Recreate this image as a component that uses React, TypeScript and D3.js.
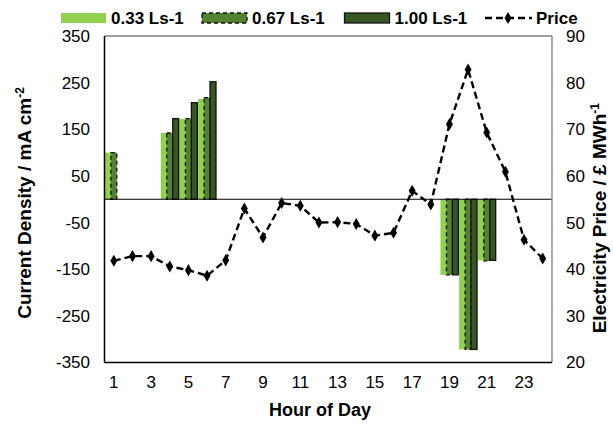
import React from "react";
import * as d3 from "d3";

// hours 1..24
const hours = d3.range(1, 25).map(String);
const seriesNames = ["0.33 Ls-1", "0.67 Ls-1", "1.00 Ls-1"];

// current density (mA cm-2) per hour, 0 = no bar
const flow033 = [100, 0, 0, 142, 172, 215, 0, 0, 0, 0, 0, 0, 0, 0, 0, 0, 0, 0, -162, -322, -131, 0, 0, 0];
const flow067 = [100, 0, 0, 142, 173, 218, 0, 0, 0, 0, 0, 0, 0, 0, 0, 0, 0, 0, -162, -322, -132, 0, 0, 0];
const flow100 = [0, 0, 0, 173, 207, 252, 0, 0, 0, 0, 0, 0, 0, 0, 0, 0, 0, 0, -162, -322, -131, 0, 0, 0];

// electricity price (£ MWh-1)
const price = [41.8, 42.8, 42.8, 40.6, 39.8, 38.6, 41.9, 53.0, 46.8, 54.2, 53.6, 50.0, 50.1, 49.7, 47.2, 47.8, 56.8, 53.9, 71.1, 82.8, 69.3, 60.9, 46.3, 42.3];

const leftTicks = d3.range(-350, 351, 100);
const rightTicks = d3.range(20, 91, 10);
const xTickLabels = hours.filter((h, i) => i % 2 === 0);

const font = "'Liberation Sans', Arial, sans-serif";
const fills = ["#92D050", "#548235", "#375623"];

const App = () => {
  const left = 104.5, right = 552, top = 36, bottom = 362.5;

  const x = d3.scaleBand().domain(hours).range([left, right]).paddingInner(0.04).paddingOuter(0.02);
  const xs = d3.scaleBand().domain(seriesNames).range([0, x.bandwidth()]);
  const y = d3.scaleLinear().domain([-350, 350]).range([bottom, top]);
  const y2 = d3.scaleLinear().domain([20, 90]).range([bottom, top]);

  const all = [flow033, flow067, flow100];

  const line = d3.line<number>()
    .x((d, i) => x(hours[i])! + x.bandwidth() / 2)
    .y(d => y2(d));

  const diamond = d3.symbol().type(d3.symbolDiamond).size(42)();

  const barStyle = (k: number) => {
    if (k === 0) return { fill: fills[0], stroke: "none" };
    if (k === 1) return { fill: fills[1], stroke: "#111", strokeWidth: 1.3, strokeDasharray: "4,3" };
    return { fill: fills[2], stroke: "#111", strokeWidth: 1.3 };
  };

  const legend = [
    { x: 61, label: seriesNames[0], kind: 0 },
    { x: 202, label: seriesNames[1], kind: 1 },
    { x: 344.5, label: seriesNames[2], kind: 2 },
  ];

  return (
    <svg width={613} height={426} style={{ display: "block", position: "absolute", left: 0, top: 0 }}>
      <rect width={613} height={426} fill="white" />

      {/* bars */}
      {all.map((vals, k) =>
        vals.map((v, i) =>
          v === 0 ? null : (
            <rect
              key={`${k}-${i}`}
              x={x(hours[i])! + xs(seriesNames[k])!}
              y={Math.min(y(v), y(0))}
              width={xs.bandwidth()}
              height={Math.abs(y(v) - y(0))}
              {...barStyle(k)}
            />
          )
        )
      )}

      {/* zero line */}
      <line x1={left} x2={right} y1={y(0)} y2={y(0)} stroke="#000" strokeWidth={1.2} />

      {/* frame */}
      <line x1={left} x2={right} y1={top} y2={top} stroke="#7f7f7f" strokeWidth={1.3} />
      <line x1={right} x2={right} y1={top} y2={bottom} stroke="#7f7f7f" strokeWidth={1.3} />
      <line x1={left} x2={right} y1={bottom} y2={bottom} stroke="#000" strokeWidth={1.5} />
      <line x1={left} x2={left} y1={top} y2={bottom} stroke="#000" strokeWidth={1.5} />

      {/* price line */}
      <path d={line(price)!} fill="none" stroke="#000" strokeWidth={2.4} strokeDasharray="7,4" />
      {price.map((p, i) => (
        <path key={i} d={diamond!} transform={`translate(${x(hours[i])! + x.bandwidth() / 2},${y2(p)})`} fill="#000" />
      ))}

      {/* left ticks */}
      {leftTicks.map(t => (
        <text key={t} x={90} y={y(t)} dy="0.35em" textAnchor="end" fontFamily={font} fontSize={17} fill="#000">
          {t}
        </text>
      ))}
      {/* right ticks */}
      {rightTicks.map(t => (
        <text key={t} x={566} y={y2(t)} dy="0.35em" textAnchor="start" fontFamily={font} fontSize={17} fill="#000">
          {t}
        </text>
      ))}
      {/* x ticks */}
      {xTickLabels.map(h => (
        <text key={h} x={x(h)! + x.bandwidth() / 2} y={388} textAnchor="middle" fontFamily={font} fontSize={17} fill="#000">
          {h}
        </text>
      ))}

      {/* axis titles */}
      <text x={320} y={416} textAnchor="middle" fontFamily={font} fontSize={18} fontWeight="bold">
        Hour of Day
      </text>
      <text transform="translate(31,203) rotate(-90)" textAnchor="middle" fontFamily={font} fontSize={19} fontWeight="bold">
        Current Density / mA cm<tspan baselineShift="super" fontSize={12}>-2</tspan>
      </text>
      <text transform="translate(606,103) rotate(-90)" textAnchor="end" fontFamily={font} fontSize={19} fontWeight="bold">
        Electricity Price / £ MWh<tspan baselineShift="super" fontSize={12}>-1</tspan>
      </text>

      {/* legend */}
      {legend.map(l => (
        <g key={l.label}>
          <rect x={l.x} y={13} width={45} height={10} {...barStyle(l.kind)} />
          <text x={l.x + 50} y={24} fontFamily={font} fontSize={17} fontWeight="bold">
            {l.label}
          </text>
        </g>
      ))}
      <line x1={485} x2={532} y1={18} y2={18} stroke="#000" strokeWidth={2.4} strokeDasharray="7,4" />
      <path d={diamond!} transform="translate(508,18)" fill="#000" />
      <text x={536} y={24} fontFamily={font} fontSize={17} fontWeight="bold">
        Price
      </text>
    </svg>
  );
};

export default App;
